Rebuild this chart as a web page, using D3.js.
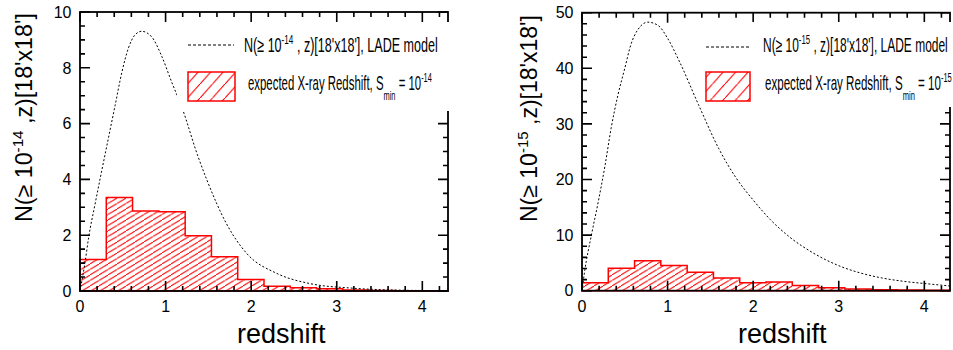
<!DOCTYPE html>
<html lang="en">
<head>
<meta charset="UTF-8">
<title>Redshift distributions</title>
<style>
  body { margin: 0; background: #fff; }
  svg { display: block; }
  text { font-family: "Liberation Sans", Arial, Helvetica, sans-serif; fill: #000; }
</style>
</head>
<body>
<svg id="chart" width="953" height="350"></svg>
<script src="https://cdnjs.cloudflare.com/ajax/libs/d3/7.8.5/d3.min.js"></script>
<script>
// data
const binEdges = [0, 0.307, 0.614, 0.921, 1.229, 1.536, 1.843, 2.15, 2.457, 2.764, 3.071, 3.379, 3.686, 3.993, 4.3];
const histLeft = [1.13, 3.35, 2.87, 2.84, 1.98, 1.23, 0.41, 0.17, 0.12, 0.08, 0.04, 0.02, 0.01, 0.01];
const histRight = [1.44, 4.02, 5.4, 4.53, 3.3, 2.3, 1.44, 1.58, 0.93, 0.54, 0.3, 0.18, 0.12, 0.06];

const curveLeftZ = [0, 0.06, 0.1, 0.175, 0.25, 0.33, 0.41, 0.49, 0.565, 0.64, 0.72, 0.84, 0.95, 1.07, 1.2, 1.37, 1.48, 1.71, 1.95, 2.3, 2.68, 3.19, 3.6, 4.3];
const curveLeftN = [0, 1.05, 1.9, 3.1, 4.25, 5.45, 6.65, 7.85, 8.7, 9.17, 9.31, 9.1, 8.45, 7.5, 6.5, 4.9, 4.0, 2.42, 1.34, 0.63, 0.27, 0.1, 0.04, 0.01];
const curveRightZ = [0, 0.03, 0.11, 0.19, 0.27, 0.34, 0.42, 0.5, 0.57, 0.65, 0.77, 0.89, 1.0, 1.145, 1.36, 1.6, 1.8, 2.0, 2.2, 2.43, 2.7, 3.0, 3.25, 3.5, 3.75, 4.03, 4.3];
const curveRightN = [0, 3.4, 10, 16, 22.6, 29.2, 35.2, 40, 44.2, 46.9, 48.3, 47.7, 45.4, 41, 33.5, 25.5, 20.3, 16.3, 12.8, 9.6, 6.8, 4.5, 3.2, 2.3, 1.7, 1.25, 0.85];

const xTicks = [0, 1, 2, 3, 4];
const xMinorTicks = [0.2, 0.4, 0.6, 0.8, 1.2, 1.4, 1.6, 1.8, 2.2, 2.4, 2.6, 2.8, 3.2, 3.4, 3.6, 3.8, 4.2];
const yTicksLeft = [0, 2, 4, 6, 8, 10];
const yMinorLeft = [0.5, 1, 1.5, 2.5, 3, 3.5, 4.5, 5, 5.5, 6.5, 7, 7.5, 8.5, 9, 9.5];
const yTicksRight = [0, 10, 20, 30, 40, 50];
const yMinorRight = [2, 4, 6, 8, 12, 14, 16, 18, 22, 24, 26, 28, 32, 34, 36, 38, 42, 44, 46, 48];

const svg = d3.select("#chart");
const defs = svg.append("defs");

function hatch(id, w, h, sw) {
  const p = defs.append("pattern")
    .attr("id", id)
    .attr("patternUnits", "userSpaceOnUse")
    .attr("width", w).attr("height", h);
  p.append("line")
    .attr("x1", -w).attr("y1", 2 * h).attr("x2", 2 * w).attr("y2", -h)
    .attr("stroke", "#ff0000").attr("stroke-width", sw);
}
hatch("hatchHist", 9, 5.5, 1);
hatch("hatchLeg", 12.5, 14, 1.1);

// squeeze a text element horizontally to a target width (ROOT narrow look)
function fit(sel, x, y, width, rotate) {
  const w = sel.node().getBBox().width;
  const s = width / w;
  if (rotate) sel.attr("transform", `translate(${x},${y}) rotate(-90) scale(${s},1)`);
  else sel.attr("transform", `translate(${x},${y}) scale(${s},1)`);
}

// inward tick marks as one path, built from the scale
function ticks(g, vals, scale, fixed, len, horizontal) {
  let d = "";
  vals.forEach(v => {
    const p = scale(v);
    if (horizontal) d += `M${p},${fixed}v${len}`;
    else d += `M${fixed},${p}h${len}`;
  });
  g.append("path").attr("d", d)
    .attr("fill", "none").attr("stroke", "#000").attr("stroke-width", 1.6);
}

function panel(o) {
  const x = d3.scaleLinear().domain([0, 4.3]).range([o.left, o.right]);
  const y = d3.scaleLinear().domain([0, o.ymax]).range([o.bottom, o.top]);
  const g = svg.append("g");

  const clipId = "clip" + o.key;
  defs.append("clipPath").attr("id", clipId)
    .append("rect")
    .attr("x", o.left).attr("y", o.top)
    .attr("width", o.right - o.left).attr("height", o.bottom - o.top);

  // histogram
  const steps = o.hist.map((v, i) => ({ x0: binEdges[i], x1: binEdges[i + 1], v }));
  let d = `M${x(0)},${y(0)}`;
  steps.forEach(s => { d += `L${x(s.x0)},${y(s.v)}L${x(s.x1)},${y(s.v)}`; });
  d += `L${x(4.3)},${y(0)}Z`;
  g.append("path").attr("d", d)
    .attr("fill", "url(#hatchHist)")
    .attr("stroke", "#ff0000").attr("stroke-width", 1.5);

  // model curve
  const pts = o.cz.map((z, i) => [z, o.cn[i]]);
  g.append("path")
    .attr("clip-path", `url(#${clipId})`)
    .attr("d", d3.line().x(p => x(p[0])).y(p => y(p[1])).curve(d3.curveMonotoneX)(pts))
    .attr("fill", "none").attr("stroke", "#000")
    .attr("stroke-width", 1).attr("stroke-dasharray", "2,2");

  // frame
  g.append("rect")
    .attr("x", o.left).attr("y", o.top)
    .attr("width", o.right - o.left).attr("height", o.bottom - o.top)
    .attr("fill", "none").attr("stroke", "#000").attr("stroke-width", 1.8);

  ticks(g, xTicks, x, o.bottom, -10, true);
  ticks(g, xMinorTicks, x, o.bottom, -5, true);
  ticks(g, xTicks, x, o.top, 10, true);
  ticks(g, xMinorTicks, x, o.top, 5, true);
  ticks(g, o.yticks, y, o.left, 10, false);
  ticks(g, o.yminor, y, o.left, 5, false);
  ticks(g, o.yticks, y, o.right, -10, false);
  ticks(g, o.yminor, y, o.right, -5, false);

  // legend background hides the frame and curve behind it
  g.append("rect")
    .attr("x", o.leg.bx).attr("y", 22)
    .attr("width", o.leg.bw).attr("height", o.leg.bh)
    .attr("fill", "#fff");

  // tick labels
  g.append("g").selectAll("text").data(xTicks).join("text")
    .attr("x", v => x(v)).attr("y", 312)
    .attr("text-anchor", "middle").attr("font-size", 16)
    .text(v => v);
  g.append("g").selectAll("text").data(o.yticks).join("text")
    .attr("x", o.left - 8.5).attr("y", v => y(v)).attr("dy", "0.36em")
    .attr("text-anchor", "end").attr("font-size", 16)
    .text(v => v);

  // axis titles
  g.append("text").attr("x", o.xtitle).attr("y", 343)
    .attr("font-size", 27).text("redshift");

  const yt = g.append("text").attr("font-size", 23);
  yt.append("tspan").text("N(\u2265  10");
  yt.append("tspan").attr("font-size", 15).attr("dy", -9).text("-" + o.exp);
  yt.append("tspan").attr("dy", 9).text(" ,z)[18'x18']");
  fit(yt, o.ytitleX, 222, o.ytitleLen, true);

  // legend
  const L = o.leg;
  g.append("line")
    .attr("x1", L.lx0).attr("x2", L.lx1).attr("y1", L.ly).attr("y2", L.ly)
    .attr("stroke", "#000").attr("stroke-width", 1).attr("stroke-dasharray", "3,2");
  g.append("rect")
    .attr("x", L.lx0).attr("y", 72).attr("width", L.lx1 - L.lx0 + 1).attr("height", 29)
    .attr("fill", "url(#hatchLeg)").attr("stroke", "#ff0000").attr("stroke-width", 1.5);

  const t1 = g.append("text").attr("font-size", 20);
  t1.append("tspan").text("N(\u2265  10");
  t1.append("tspan").attr("font-size", 13).attr("dy", -8).text("-" + o.exp);
  t1.append("tspan").attr("dy", 8).text(" , z)[18'x18'], LADE model");
  fit(t1, L.t1x, 52, L.t1w, false);

  const t2 = g.append("text").attr("font-size", 20);
  t2.append("tspan").text("expected X-ray Redshift, S");
  t2.append("tspan").attr("font-size", 13).attr("dy", 10).text("min");
  t2.append("tspan").attr("dy", -10).text(" = 10");
  t2.append("tspan").attr("font-size", 13).attr("dy", -8).text("-" + o.exp);
  fit(t2, L.t2x, 90, L.t2w, false);
}

panel({
  key: "L", left: 80, right: 448, top: 12, bottom: 291, ymax: 10,
  yticks: yTicksLeft, yminor: yMinorLeft, hist: histLeft, cz: curveLeftZ, cn: curveLeftN, exp: "14",
  xtitle: 237, ytitleX: 32, ytitleLen: 209,
  leg: { bx: 177, bw: 278, bh: 89, lx0: 188, lx1: 234, ly: 45, t1x: 244, t1w: 194, t2x: 248, t2w: 184 }
});
panel({
  key: "R", left: 582, right: 950, top: 12.7, bottom: 290.7, ymax: 50,
  yticks: yTicksRight, yminor: yMinorRight, hist: histRight, cz: curveRightZ, cn: curveRightN, exp: "15",
  xtitle: 738, ytitleX: 537, ytitleLen: 207,
  leg: { bx: 701, bw: 255, bh: 85, lx0: 706, lx1: 749, ly: 47, t1x: 763, t1w: 185, t2x: 765, t2w: 187 }
});
</script>
</body>
</html>
